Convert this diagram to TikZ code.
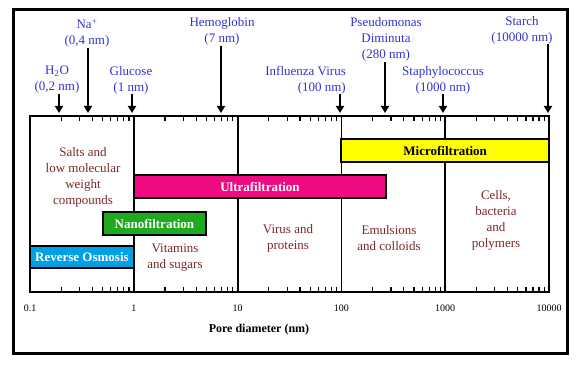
\documentclass[tikz,border=0pt]{standalone}
\usepackage{fontspec}
\setmainfont{Liberation Serif}
\usepackage{xcolor}
\usepackage{tikz}
\usetikzlibrary{arrows.meta}

\definecolor{molblue}{RGB}{51,51,204}
\definecolor{grpbrown}{RGB}{122,40,40}
\definecolor{mfyellow}{RGB}{255,255,0}
\definecolor{ufpink}{RGB}{240,10,130}
\definecolor{nfgreen}{RGB}{30,170,30}
\definecolor{rocyan}{RGB}{0,160,230}

\newcommand{\px}[1]{30+103.8*(log10(#1)+1)}

\begin{document}
\begin{tikzpicture}[x=1pt, y=-1pt,
    every node/.style={inner sep=0pt, align=center, font=\fontsize{13}{16}\selectfont},
    mol/.style={text=molblue},
    grp/.style={text=grpbrown},
    filt/.style={draw, line width=2pt},
    filtlbl/.style={font=\fontsize{13}{16}\selectfont\bfseries},
    arr/.style={line width=2pt, -{Triangle[width=8pt,length=7pt]}}]

    \useasboundingbox (0,0) rectangle (578,366);
    \draw[line width=3pt] (13,10) rectangle (567,353);

    % decades and ticks
    \foreach \d in {1,...,4}
        \draw[line width=1.8pt] (30+103.8*\d,116) -- (30+103.8*\d,292);
    \foreach \d in {0,...,4}
        \foreach \m in {2,...,9} {
            \pgfmathsetmacro{\xt}{30+103.8*(\d+log10(\m))}
            \draw[line width=1.2pt] (\xt,116) -- ++(0,5) (\xt,292) -- ++(0,-5);
        }
    \draw[line width=2pt] (30,116) rectangle (549,292);
    \foreach \d/\lab in {0/0.1,1/1,2/10,3/100,4/1000,5/10000}
        \node[font=\fontsize{10}{12}\selectfont] (tl\d) at (30+103.8*\d,308) {\lab};
    \node[font=\fontsize{12}{14}\selectfont\bfseries] (axis) at (259,330) {Pore diameter (nm)};

    % filtration ranges
    \draw[filt, fill=mfyellow] ({\px{100}},139) rectangle ({\px{10000}},162)
        node[midway, filtlbl] (micro) {Microfiltration};
    \draw[filt, fill=ufpink] ({\px{1}},175) rectangle ({\px{270}},198)
        node[midway, filtlbl, text=white] (ultra) {Ultrafiltration};
    \draw[filt, fill=nfgreen] ({\px{0.5}},212) rectangle ({\px{5}},235)
        node[midway, filtlbl, text=white] (nano) {Nanofiltration};
    \draw[filt, fill=rocyan] ({\px{0.1}},246) rectangle ({\px{1}},268)
        node[midway, filtlbl, text=white] (ro) {Reverse Osmosis};

    % what is retained
    \node[grp] (salts) at (83,177) {Salts and\\low molecular\\weight\\compounds};
    \node[grp] (vit) at (175,258) {Vitamins\\and sugars};
    \node[grp] (virus) at (288,238) {Virus and\\proteins};
    \node[grp] (emul) at (389,238) {Emulsions\\and colloids};
    \node[grp] (cells) at (496,220) {Cells,\\bacteria\\and\\polymers};

    % molecule sizes
    \node[mol] (h2o) at (57,80) {H\textsubscript{2}O\\(0,2 nm)};
    \node[mol] (na) at (87,33.5) {Na\textsuperscript{+}\\(0,4 nm)};
    \node[mol] (glu) at (131,80) {Glucose\\(1 nm)};
    \node[mol] (hemo) at (222,31.5) {Hemoglobin\\(7 nm)};
    \node[mol, anchor=east, align=right] (flu) at (346,80) {Influenza Virus\\(100 nm)};
    \node[mol] (pseudo) at (386,39.5) {Pseudomonas\\Diminuta\\(280 nm)};
    \node[mol] (staph) at (443,80) {Staphylococcus\\(1000 nm)};
    \node[mol] (starch) at (522,30) {Starch\\(10000 nm)};

    \foreach \n/\x in {h2o/59, na/88, glu/132, hemo/221, flu/340, pseudo/385, staph/443, starch/548} {
        \coordinate (tip\n) at (\x,113);
        \draw[arr] (\n.south -| tip\n) -- (tip\n);
    }
\end{tikzpicture}
\end{document}
